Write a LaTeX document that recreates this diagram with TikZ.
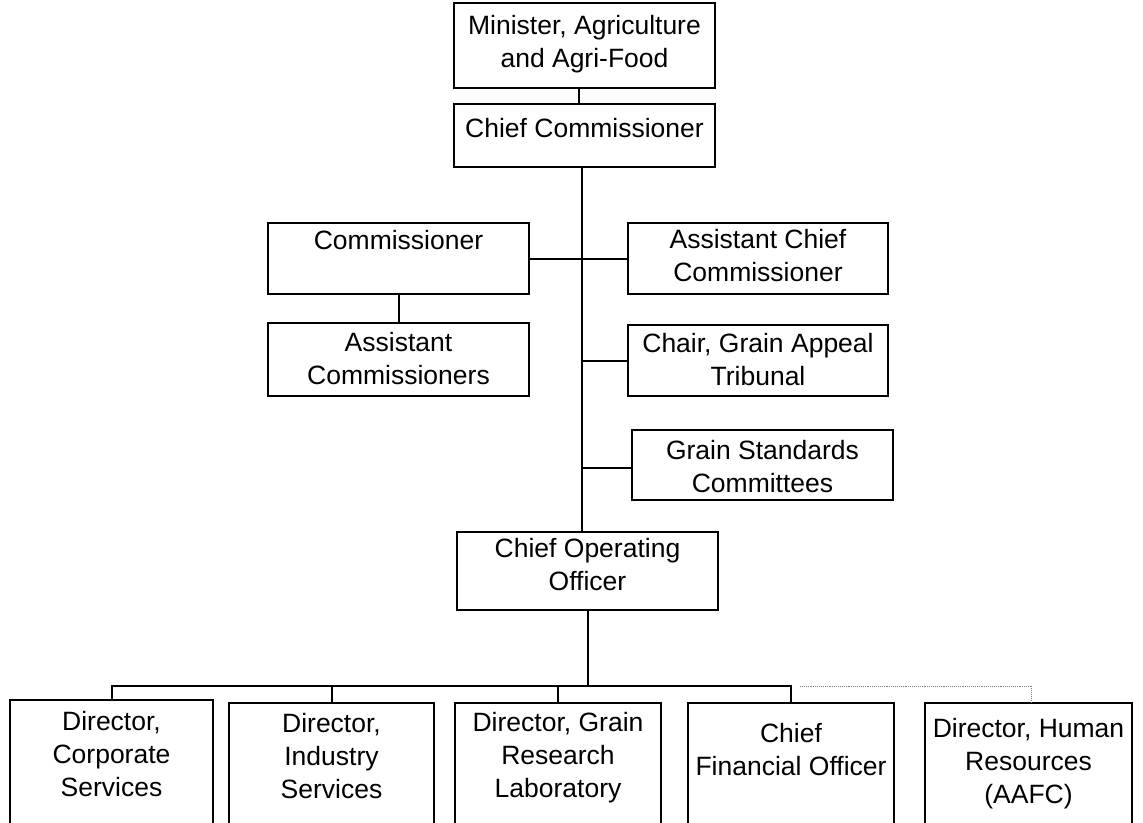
\documentclass[tikz,border=0pt]{standalone}
\usepackage{fontspec}
\setmainfont{Liberation Sans}
\begin{document}
\begin{tikzpicture}[x=1pt,y=-1pt,
  box/.style={draw, line width=1.6pt, inner sep=0pt},
  txt/.style={align=center, inner sep=0pt, font=\fontsize{26.5}{33}\selectfont},
  conn/.style={line width=2pt},
  dotconn/.style={line width=0.9pt, gray, densely dotted}]
\useasboundingbox (0,0) rectangle (1143,822);
\clip (0,0) rectangle (1143,822);
% boxes
\node[box, minimum width=261pt, minimum height=85pt] (min) at (584.5,45.5) {};
\node[box, minimum width=261pt, minimum height=63pt] (cc) at (584.5,135.5) {};
\node[box, minimum width=261pt, minimum height=71pt] (com) at (398.5,258.5) {};
\node[box, minimum width=260pt, minimum height=71pt] (acc) at (758,258.5) {};
\node[box, minimum width=261pt, minimum height=73pt] (ac) at (398.5,359.5) {};
\node[box, minimum width=260pt, minimum height=71pt] (chair) at (758,360.5) {};
\node[box, minimum width=261pt, minimum height=70pt] (gsc) at (762.5,465) {};
\node[box, minimum width=261pt, minimum height=78pt] (coo) at (587.5,571) {};
\node[box, minimum width=203pt, minimum height=140pt] (d1) at (111.5,770) {};
\node[box, minimum width=205pt, minimum height=140pt] (d2) at (331.5,773) {};
\node[box, minimum width=206pt, minimum height=140pt] (d3) at (558,773) {};
\node[box, minimum width=206pt, minimum height=140pt] (cfo) at (791,773) {};
\node[box, minimum width=207pt, minimum height=140pt] (hr) at (1028.5,773) {};
% texts
\node[txt] (mint) at (584.5,44) {Minister, Agriculture\\and Agri-Food};
\node[txt] (cct) at (584.5,128) {Chief Commissioner};
\node[txt] (comt) at (398.5,240) {Commissioner};
\node[txt] (acct) at (758,256) {Assistant Chief\\Commissioner};
\node[txt] (act) at (398.5,359) {Assistant\\Commissioners};
\node[txt] (chairt) at (758,360) {Chair, Grain Appeal\\Tribunal};
\node[txt] (gsct) at (762.5,467) {Grain Standards\\Committees};
\node[txt] (coot) at (587.5,565) {Chief Operating\\Officer};
\node[txt] (d1t) at (111.5,754) {Director,\\Corporate\\Services};
\node[txt] (d2t) at (331.5,756) {Director,\\Industry\\Services};
\node[txt] (d3t) at (558,758) {Director, Grain\\Research\\Laboratory};
\node[txt] (cfot) at (791,750) {Chief\\Financial Officer};
\node[txt] (hrt) at (1028.5,764) {Director, Human\\Resources\\(AAFC)};
% connectors
\coordinate (t) at ([xshift=-2.5pt]cc.south);
\coordinate (busy) at (0,686);
\coordinate (gscw) at ([yshift=-3pt]gsc.west);
\draw[conn] ([xshift=-5.5pt]min.south) -- ([xshift=-5.5pt]cc.north);
\draw[conn] (t) -- (t |- coo.north);
\draw[conn] (com.east) -- (acc.west);
\draw[conn] (com.south) -- (ac.north);
\draw[conn] (chair.west) -- (t |- chair.west);
\draw[conn] (gscw) -- (t |- gscw);
\draw[conn] (coo.south) -- (coo.south |- busy);
\draw[conn] (d1.north) -- (d1.north |- busy) -- (cfo.north |- busy) -- (cfo.north);
\draw[conn] (d2.north) -- (d2.north |- busy);
\draw[conn] (d3.north) -- (d3.north |- busy);
\draw[dotconn] ([xshift=9pt]cfo.north |- busy) -- ([xshift=3pt]hr.north |- busy) -- ([xshift=3pt]hr.north);
\end{tikzpicture}
\end{document}
